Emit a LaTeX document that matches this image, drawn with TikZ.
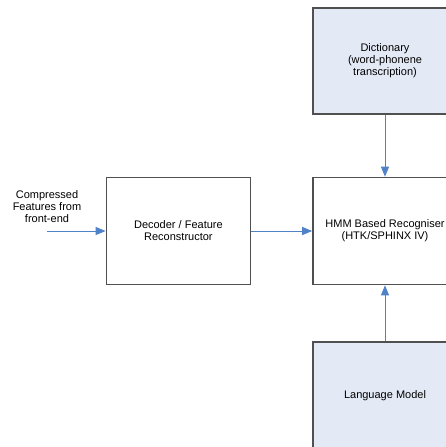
\documentclass[tikz,border=0pt]{standalone}
\usepackage{fontspec}
\setmainfont{Liberation Sans}
\usetikzlibrary{arrows.meta,positioning}

\definecolor{boxline}{RGB}{80,80,80}
\definecolor{flowblue}{RGB}{80,130,200}
\definecolor{paleblue}{RGB}{228,234,245}

\begin{document}
\begin{tikzpicture}[
    x=1pt, y=-1pt,
    node distance=62pt,
    box/.style={rectangle, draw=boxline, line width=1.6pt, minimum width=144pt, minimum height=107pt, align=center, font=\fontsize{11}{12}\selectfont},
    feattext/.style={align=center, font=\fontsize{11}{12}\selectfont},
    arrow/.style={-{Triangle[length=10pt,width=8pt]}, draw=flowblue, fill=flowblue, line width=1pt}
]
\useasboundingbox (0,0) rectangle (446,447);

\begin{scope}
\clip (0,0) rectangle (446,447);
\node[box] (hmm) at (385,231) {HMM Based Recogniser\\(HTK/SPHINX IV)};
\node[box, fill=paleblue, minimum height=106pt, above=of hmm] (dict) {Dictionary\\(word-phonene\\transcription)};
\node[box, fill=paleblue, below=56pt of hmm] (lm) {Language Model};
\node[box, left=61pt of hmm] (dec) {Decoder / Feature\\Reconstructor};
\end{scope}

\node[feattext] (feat) at (47,207) {Compressed\\Features from\\front-end};
\coordinate (in) at (47,231);

\draw[arrow] (in) -- (dec.west);
\draw[arrow] (dec.east) -- (hmm.west);
\draw[arrow] (dict.south) -- (hmm.north);
\draw[arrow] (lm.north) -- (hmm.south);

\end{tikzpicture}
\end{document}
